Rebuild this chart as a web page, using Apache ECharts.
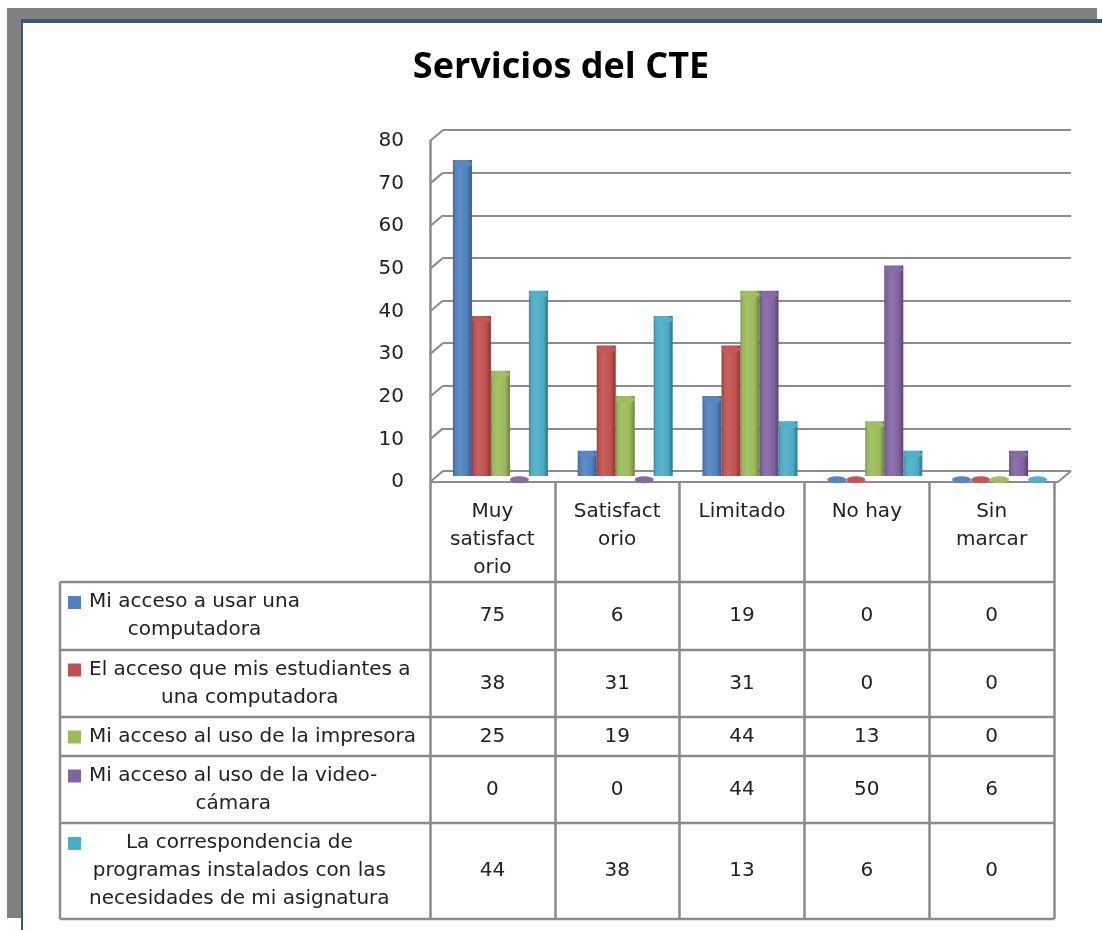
<!DOCTYPE html>
<html>
<head>
<meta charset="utf-8">
<title>Servicios del CTE</title>
<script src="https://cdn.jsdelivr.net/npm/echarts/dist/echarts.min.js"></script>
<style>
  html, body { margin: 0; padding: 0; background: #fff; }
  #chart { width: 1102px; height: 930px; }
</style>
</head>
<body>
<div id="chart"></div>
<script>
// categorias (columnas de la tabla)
const categories = ['Muy satisfactorio', 'Satisfactorio', 'Limitado', 'No hay', 'Sin marcar']
// etiquetas tal como se ven en la cabecera de la tabla
const headerLabels = ['Muy\nsatisfact\norio', 'Satisfact\norio', 'Limitado', 'No hay', 'Sin\nmarcar']
const seriesNames = [
  'Mi acceso a usar una computadora',
  'El acceso que mis estudiantes a una computadora',
  'Mi acceso al uso de la impresora',
  'Mi acceso al uso de la video-cámara',
  'La correspondencia de programas instalados con las necesidades de mi asignatura'
]
const legendLabels = [
  'Mi acceso a usar una\ncomputadora',
  'El acceso que mis estudiantes a\nuna computadora',
  'Mi acceso al uso de la impresora',
  'Mi acceso al uso de la video-\ncámara',
  'La correspondencia de\nprogramas instalados con las\nnecesidades de mi asignatura'
]
const accesoComputadora = [75, 6, 19, 0, 0]
const accesoEstudiantes = [38, 31, 31, 0, 0]
const accesoImpresora = [25, 19, 44, 13, 0]
const accesoVideocamara = [0, 0, 44, 50, 6]
const correspondenciaProgramas = [44, 38, 13, 6, 0]
const yTicks = [0, 10, 20, 30, 40, 50, 60, 70, 80]

const seriesValues = [accesoComputadora, accesoEstudiantes, accesoImpresora, accesoVideocamara, correspondenciaProgramas]
const colors = ['#4F81BD', '#C0504D', '#9BBB59', '#8064A2', '#4BACC6']

const FONT = 'DejaVu Sans'
const LINE_COLOR = '#8a8a8a'
const AXIS_COLOR = '#8c8c8c'
// layout de la tabla
const LEGEND_LEFT = 60
const HEADER_H = 99
const ROW_H = [68, 67, 39, 67, 96]
const TEXT_LEFT = 89
const LINE_H = 28
// desplazamiento de la profundidad 3D (pared del fondo -> frente)
const DX = -13
const DY = 11

function shade(hex, f) {
  const n = parseInt(hex.slice(1), 16)
  let r = (n >> 16) & 255, g = (n >> 8) & 255, b = n & 255
  const t = f < 0 ? 0 : 255
  const p = Math.abs(f)
  r = Math.round((t - r) * p + r)
  g = Math.round((t - g) * p + g)
  b = Math.round((t - b) * p + b)
  return 'rgb(' + r + ',' + g + ',' + b + ')'
}

function cylinder(hex) {
  return new echarts.graphic.LinearGradient(0, 0, 1, 0, [
    { offset: 0, color: shade(hex, -0.22) },
    { offset: 0.12, color: hex },
    { offset: 0.35, color: shade(hex, 0.1) },
    { offset: 0.75, color: hex },
    { offset: 1, color: shade(hex, -0.32) }
  ])
}

const measureCtx = document.createElement('canvas').getContext('2d')
function textWidth(str) {
  measureCtx.font = '20px "' + FONT + '"'
  return Math.max.apply(null, str.split('\n').map(s => measureCtx.measureText(s).width))
}

function renderStub(params, api) {
  const v = api.value(1)
  const back = api.coord([0, v])
  const style = { stroke: AXIS_COLOR, lineWidth: 2, fill: null }
  const children = [{
    type: 'line',
    shape: { x1: back[0] + DX, y1: back[1] + DY, x2: back[0], y2: back[1] },
    style: style
  }]
  if (v === 0) {
    const backRight = api.coord([1, 0])
    children.push({
      type: 'polyline',
      shape: { points: [[back[0] + DX, back[1] + DY], [backRight[0] + DX, backRight[1] + DY], backRight] },
      style: style
    })
  }
  return { type: 'group', children: children }
}

function renderRow(params, api) {
  const r = api.value(2)
  const cs = params.coordSys
  let top = cs.y + HEADER_H
  for (let i = 0; i < r; i++) top += ROW_H[i]
  const h = ROW_H[r]
  const right = cs.x + cs.width
  const mid = top + h / 2
  const lineStyle = { stroke: LINE_COLOR, lineWidth: 2.5 }
  const children = [
    { type: 'line', shape: { x1: LEGEND_LEFT, y1: top, x2: right, y2: top }, style: lineStyle },
    { type: 'line', shape: { x1: LEGEND_LEFT, y1: top, x2: LEGEND_LEFT, y2: top + h }, style: lineStyle }
  ]
  if (r === ROW_H.length - 1) {
    children.push({ type: 'line', shape: { x1: LEGEND_LEFT, y1: top + h, x2: right, y2: top + h }, style: lineStyle })
  }
  const label = legendLabels[r]
  const nLines = label.split('\n').length
  const blockTop = mid - nLines * LINE_H / 2
  children.push({
    type: 'rect',
    shape: { x: 68, y: blockTop + LINE_H / 2 - 6, width: 13, height: 13 },
    style: { fill: colors[r] }
  })
  children.push({
    type: 'text',
    x: TEXT_LEFT + textWidth(label) / 2,
    y: mid,
    style: {
      text: label, fill: '#222', fontFamily: FONT, fontSize: 20,
      align: 'center', verticalAlign: 'middle', lineHeight: LINE_H
    }
  })
  seriesValues[r].forEach((v, c) => {
    children.push({
      type: 'text',
      x: api.coord([c, 0])[0],
      y: mid,
      style: {
        text: String(v), fill: '#222', fontFamily: FONT, fontSize: 20,
        align: 'center', verticalAlign: 'middle'
      }
    })
  })
  return { type: 'group', children: children }
}

const barSeries = []
seriesValues.forEach((vals, i) => {
  barSeries.push({
    name: seriesNames[i],
    type: 'bar',
    xAxisIndex: 2,
    yAxisIndex: 2,
    data: vals,
    barWidth: 19,
    barGap: '0%',
    itemStyle: { color: cylinder(colors[i]) },
    z: 3
  })
})
seriesValues.forEach((vals, i) => {
  barSeries.push({
    name: seriesNames[i],
    type: 'pictorialBar',
    xAxisIndex: 2,
    yAxisIndex: 2,
    data: vals,
    barWidth: 19,
    barGap: '0%',
    symbol: 'circle',
    symbolSize: [19, 7],
    symbolPosition: 'end',
    itemStyle: { color: shade(colors[i], 0.05), borderColor: shade(colors[i], -0.3), borderWidth: 1 },
    z: 4
  })
})

const chart = echarts.init(document.getElementById('chart'))
const option = {
  backgroundColor: '#fff',
  animation: false,
  title: {
    text: 'Servicios del CTE',
    left: 556,
    textAlign: 'center',
    top: 45,
    textStyle: { fontFamily: 'Open Sans', fontWeight: 'bold', fontSize: 36, color: '#000' }
  },
  graphic: [
    { type: 'rect', z: -10, shape: { x: 7, y: 8, width: 1090, height: 910 }, style: { fill: '#808080' } },
    { type: 'rect', z: -9, shape: { x: 21, y: 19, width: 1081, height: 911 }, style: { fill: '#3d5670' } },
    { type: 'rect', z: -8, shape: { x: 23, y: 23, width: 1079, height: 907 }, style: { fill: '#fff' } }
  ],
  grid: [
    // pared del fondo (lineas de division)
    { left: 443, right: 31, top: 130, bottom: 459 },
    // eje frontal con etiquetas
    { left: 430, width: 1, top: 141, bottom: 448 },
    // columnas
    { left: 438, right: 40, top: 139, bottom: 454 },
    // tabla de datos
    { left: 430, right: 48, top: 483, bottom: 11 }
  ],
  xAxis: [
    { gridIndex: 0, type: 'value', min: 0, max: 1, show: false },
    { gridIndex: 1, type: 'value', min: 0, max: 1, show: false },
    { gridIndex: 2, type: 'category', data: categories, show: false },
    {
      gridIndex: 3,
      type: 'category',
      data: headerLabels,
      position: 'top',
      axisLine: { show: false },
      axisTick: { show: false },
      axisLabel: {
        inside: true, interval: 0, margin: 15,
        fontFamily: FONT, fontSize: 20, lineHeight: LINE_H, color: '#222'
      },
      splitLine: { show: true, interval: 0, lineStyle: { color: LINE_COLOR, width: 2.5 } }
    }
  ],
  yAxis: [
    {
      gridIndex: 0, type: 'value', min: 0, max: 80, interval: 10,
      axisLine: { show: false }, axisTick: { show: false }, axisLabel: { show: false },
      splitLine: { lineStyle: { color: AXIS_COLOR, width: 2 } }
    },
    {
      gridIndex: 1, type: 'value', min: 0, max: 80, interval: 10,
      axisLine: { show: true, lineStyle: { color: AXIS_COLOR, width: 2.5 } },
      axisTick: { show: false },
      splitLine: { show: false },
      axisLabel: { margin: 26, fontFamily: FONT, fontSize: 20, color: '#222' }
    },
    { gridIndex: 2, type: 'value', min: 0, max: 80, show: false },
    { gridIndex: 3, type: 'value', min: 0, max: 1, show: false }
  ],
  series: [
    {
      type: 'custom',
      xAxisIndex: 0,
      yAxisIndex: 0,
      data: yTicks.map(v => [0, v]),
      renderItem: renderStub,
      silent: true,
      z: 1
    },
    ...barSeries,
    {
      type: 'custom',
      xAxisIndex: 3,
      yAxisIndex: 3,
      data: seriesValues.map((v, r) => [0, 0, r]),
      renderItem: renderRow,
      silent: true,
      z: 2
    }
  ]
}
chart.setOption(option)
window.addEventListener('resize', () => { chart.resize() })
</script>
</body>
</html>
